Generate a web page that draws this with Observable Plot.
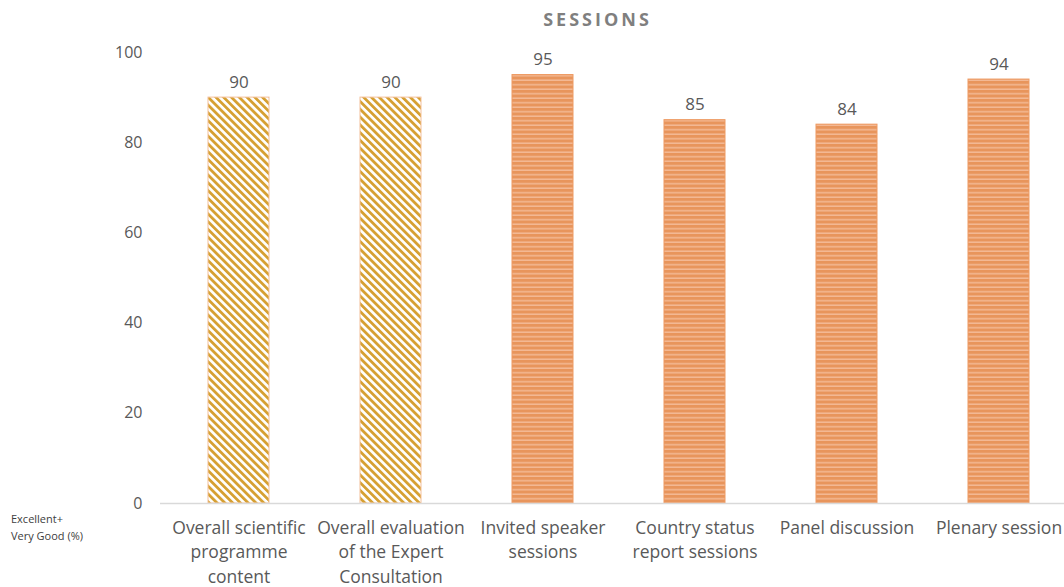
<!DOCTYPE html>
<html><head><meta charset="utf-8">
<script src="https://cdn.jsdelivr.net/npm/d3@7"></script>
<script src="https://cdn.jsdelivr.net/npm/@observablehq/plot@0.6"></script>
<style>
body{margin:0;background:#fff;font-family:"Open Sans",sans-serif;}
#wrap{position:relative;width:1064px;height:587px;overflow:hidden;}
#title{position:absolute;top:7px;left:0;width:1195px;text-align:center;font-weight:bold;font-size:18px;letter-spacing:3px;color:#7f7f7f;}
#ylab{position:absolute;left:11px;top:510px;font-size:11px;line-height:17px;color:#404040;}
#chart{position:absolute;top:0;left:0;}
</style></head><body>
<div id="wrap"><div id="chart"></div><div id="title">SESSIONS</div><div id="ylab">Excellent+<br>Very Good (%)</div></div>
<script>
const categories = ["Overall scientific\nprogramme\ncontent","Overall evaluation\nof the Expert\nConsultation","Invited speaker\nsessions","Country status\nreport sessions","Panel discussion","Plenary session"];
const values = [90, 90, 95, 85, 84, 94];
const patterns = ["diag","diag","horiz","horiz","horiz","horiz"];
const yTicks = [0,20,40,60,80,100];
const data = categories.map((c,i)=>({cat:c, value:values[i], pat:patterns[i]}));

const plot = Plot.plot({
  width:1064, height:587,
  marginTop:52, marginBottom:84, marginLeft:160, marginRight:0,
  style:{fontFamily:"Open Sans, sans-serif", fontSize:"16px", color:"#595959", overflow:"visible"},
  x:{domain:categories, range:[161,1075], paddingInner:0.6, paddingOuter:0.3, label:null},
  y:{domain:[0,100], label:null},
  marks:[
    Plot.barY(data,{x:"cat", y:"value", fill:d=>d.pat==="diag"?"url(#pdiag)":"url(#phoriz)", stroke:d=>d.pat==="diag"?"#f4c09a":"#ee9a62", strokeWidth:1}),
    Plot.ruleY([0],{stroke:"#d9d9d9", strokeWidth:1.3}),
    Plot.axisY({ticks:yTicks, tickSize:0, tickPadding:18, fontSize:16, fill:"#595959"}),
    Plot.axisX({tickSize:0, tickPadding:13, fontSize:17.5, lineHeight:1.4, fill:"#595959"}),
    Plot.text(data,{x:"cat", y:"value", text:d=>String(d.value), lineAnchor:"bottom", dy:-10, fontSize:17, fill:"#595959"})
  ]
});
const ns="http://www.w3.org/2000/svg";
const defs=document.createElementNS(ns,"defs");
defs.innerHTML=`
<pattern id="pdiag" patternUnits="userSpaceOnUse" width="5.5" height="5.5" patternTransform="rotate(-45)">
  <rect width="5.5" height="5.5" fill="#ffffff"/>
  <rect x="0" y="0" width="2.8" height="5.5" fill="#d6a032"/>
</pattern>
<pattern id="phoriz" patternUnits="userSpaceOnUse" width="10" height="4.5">
  <rect width="10" height="4.5" fill="#e8955c"/>
  <rect x="0" y="3" width="10" height="1.5" fill="#f3b994"/>
</pattern>`;
plot.insertBefore(defs, plot.firstChild);
document.getElementById("chart").appendChild(plot);
</script>
</body></html>
